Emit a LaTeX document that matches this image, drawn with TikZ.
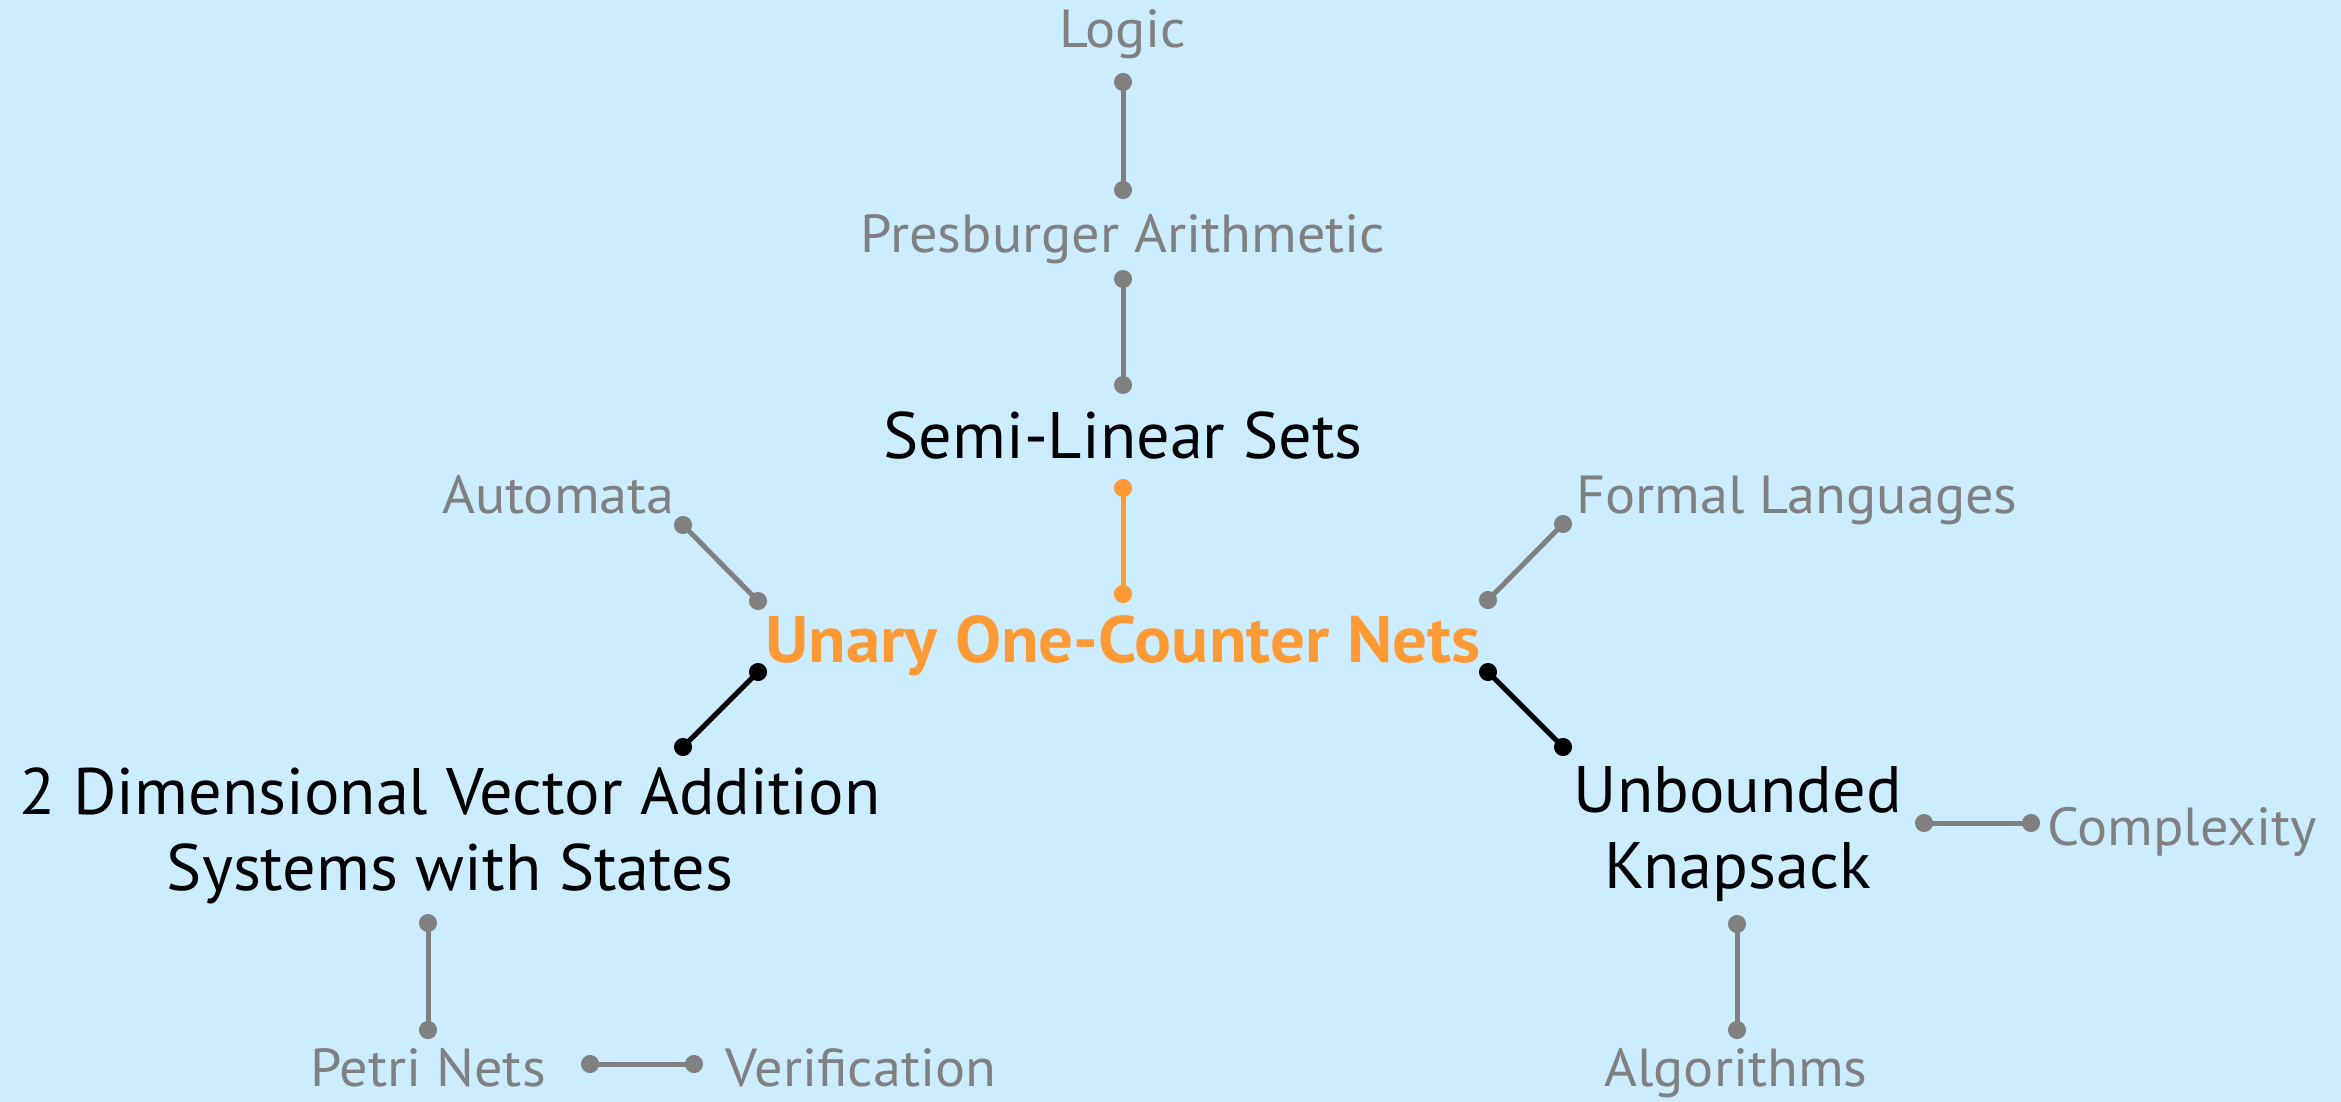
\documentclass[tikz,border=0pt]{standalone}
\usepackage{fontspec}
\setmainfont{PT Sans}[FakeStretch=1.05]
\newfontfamily\bigfam{PT Sans}[FakeStretch=1.01]
\definecolor{bgc}{RGB}{204,236,255}
\definecolor{cgray}{RGB}{128,128,128}
\definecolor{corange}{RGB}{255,153,51}
\newcommand\mylink[3]{\draw[#1] #2 -- #3; \path[#1] #2 circle (6.5pt) #3 circle (6.5pt);}
\begin{document}
\begin{tikzpicture}[x=1pt,y=-1pt,
  every node/.style={inner sep=0pt, outer sep=0pt, anchor=base},
  small/.style={text=cgray, font=\fontsize{53.6}{60}\selectfont},
  big/.style={text=black, font=\bigfam\fontsize{65.7}{76}\selectfont, align=center},
  main/.style={text=corange, font=\fontsize{65.7}{75}\selectfont\bfseries},
  gl/.style={line width=5pt, draw=cgray, fill=cgray},
  bl/.style={line width=5pt, draw=black, fill=black},
  ol/.style={line width=5pt, draw=corange, fill=corange}]
\path[fill=bgc] (0,0) rectangle (2341,1102);
\useasboundingbox (0,0) rectangle (2341,1102);

\node[small] (logic) at (1123,48) {Logic};
\node[small] (pres) at (1123,252) {Presburger Arithmetic};
\node[big] (semi) at (1123,458) {Semi-Linear Sets};
\node[main] (unary) at (1123,662) {Unary One-Counter Nets};
\node[small] (auto) at (558.5,513) {Automata};
\node[small] (formal) at (1797,513) {Formal Languages};
\node[big] (vass) at (450,890) {2 Dimensional Vector Addition\\Systems with States};
\node[big] (unb) at (1738,888) {Unbounded\\Knapsack};
\node[small] (comp) at (2182,845) {Complexity};
\node[small] (alg) at (1736,1086) {Algorithms};
\node[small] (petri) at (428,1086) {Petri Nets};
\node[small] (verif) at (861,1086) {Verification};

\mylink{gl}{([yshift=-34pt]logic.base)}{([yshift=62pt]pres.base)}
\mylink{gl}{([yshift=-27pt]pres.base)}{([yshift=73pt]semi.base)}
\mylink{ol}{([yshift=-30pt]semi.base)}{([yshift=68pt]unary.base)}
\mylink{gl}{([xshift=124.5pt,yshift=-12pt]auto.base)}{([xshift=-365pt,yshift=61pt]unary.base)}
\mylink{gl}{([xshift=-234pt,yshift=-11pt]formal.base)}{([xshift=365pt,yshift=62pt]unary.base)}
\mylink{bl}{([xshift=-365pt,yshift=-10pt]unary.base)}{([xshift=233pt,yshift=143pt]vass.base)}
\mylink{bl}{([xshift=365pt,yshift=-10pt]unary.base)}{([xshift=-175pt,yshift=141pt]unb.base)}
\mylink{gl}{([xshift=186pt,yshift=65pt]unb.base)}{([xshift=-151pt,yshift=22pt]comp.base)}
\mylink{gl}{([xshift=-1pt,yshift=-36pt]unb.base)}{([xshift=1pt,yshift=56pt]alg.base)}
\mylink{gl}{([xshift=-22pt,yshift=-33pt]vass.base)}{([yshift=56pt]petri.base)}
\mylink{gl}{([xshift=162pt,yshift=22pt]petri.base)}{([xshift=-167pt,yshift=22pt]verif.base)}
\end{tikzpicture}
\end{document}
